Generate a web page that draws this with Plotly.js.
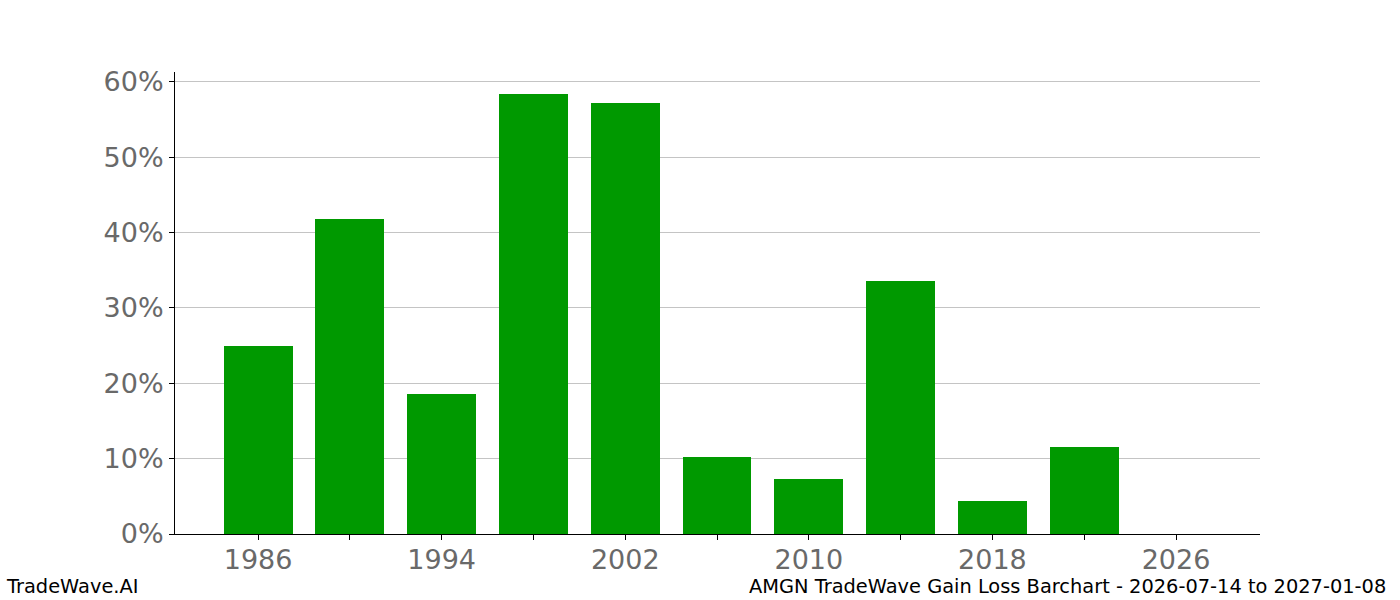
<!DOCTYPE html>
<html>
<head>
<meta charset="utf-8">
<script src="https://cdn.plot.ly/plotly-3.0.1.min.js"></script>
<style>html,body{margin:0;padding:0;background:#fff;}#chart{width:1400px;height:600px;}</style>
</head>
<body>
<div id="chart"></div>
<script>
var years = [1986, 1990, 1994, 1998, 2002, 2006, 2010, 2014, 2018, 2022, 2026];
var gains = [25.0, 41.8, 18.6, 58.4, 57.2, 10.2, 7.3, 33.6, 4.4, 11.5, 0];
var xTickVals = [1986, 1990, 1994, 1998, 2002, 2006, 2010, 2014, 2018, 2022, 2026];
var xTickText = ["1986", "", "1994", "", "2002", "", "2010", "", "2018", "", "2026"];
var yTickVals = [0, 10, 20, 30, 40, 50, 60];
var yTickText = ["0%", "10%", "20%", "30%", "40%", "50%", "60%"];
var footerLeft = "TradeWave.AI";
var footerRight = "AMGN TradeWave Gain Loss Barchart - 2026-07-14 to 2027-01-08";

var trace = {
  type: 'bar',
  x: years,
  y: gains,
  width: 3,
  marker: {color: '#009900', line: {width: 0}},
  hoverinfo: 'x+y'
};

var tickFont = {family: 'DejaVu Sans', size: 27, color: '#696969'};

var layout = {
  width: 1400,
  height: 600,
  margin: {l: 175, r: 140, t: 72, b: 66, pad: 0},
  paper_bgcolor: '#ffffff',
  plot_bgcolor: '#ffffff',
  showlegend: false,
  bargap: 0,
  xaxis: {
    range: [1982.38, 2029.66],
    tickmode: 'array',
    tickvals: xTickVals,
    ticktext: xTickText,
    ticks: 'outside',
    ticklen: 5,
    tickwidth: 1,
    tickcolor: '#000',
    ticklabelstandoff: -3,
    showline: true,
    linecolor: '#000',
    linewidth: 1,
    showgrid: false,
    zeroline: false,
    tickfont: tickFont,
    fixedrange: true
  },
  yaxis: {
    range: [0, 61.3],
    tickmode: 'array',
    tickvals: yTickVals,
    ticktext: yTickText,
    ticks: 'outside',
    ticklen: 5,
    tickwidth: 1,
    tickcolor: '#000',
    showline: true,
    linecolor: '#000',
    linewidth: 1,
    showgrid: true,
    gridcolor: '#c4c4c4',
    gridwidth: 1,
    zeroline: false,
    tickfont: tickFont,
    fixedrange: true
  },
  annotations: [
    {text: footerLeft, xref: 'paper', yref: 'paper', x: -0.1576, y: -0.1147,
     xanchor: 'left', yanchor: 'middle', showarrow: false,
     font: {family: 'DejaVu Sans', size: 19.4, color: '#000'}},
    {text: footerRight, xref: 'paper', yref: 'paper', x: 1.1180, y: -0.1147,
     xanchor: 'right', yanchor: 'middle', showarrow: false,
     font: {family: 'DejaVu Sans', size: 19.4, color: '#000'}}
  ]
};

Plotly.newPlot('chart', [trace], layout, {displayModeBar: false, staticPlot: true});
</script>
</body>
</html>
